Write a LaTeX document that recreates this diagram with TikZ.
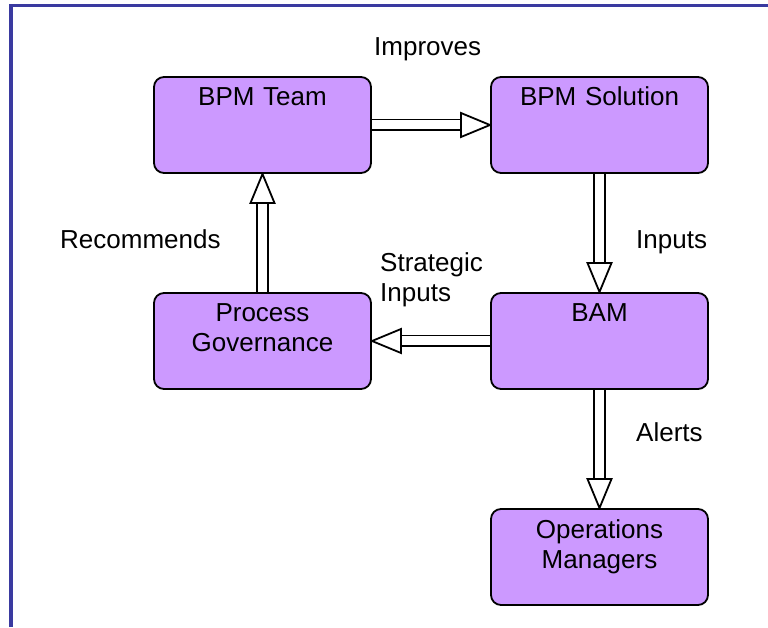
\documentclass[tikz,border=0pt]{standalone}
\usepackage{fontspec}
\setmainfont{Liberation Sans}
\usetikzlibrary{positioning,backgrounds,decorations.markings}
\definecolor{boxpurple}{HTML}{CC99FF}
\definecolor{frameblue}{RGB}{58,58,160}
\tikzset{
  procbox/.style={draw, line width=1.8pt, fill=boxpurple, rounded corners=10pt,
    text width=217pt, align=center, inner sep=0pt, outer sep=0pt,
    minimum width=217pt, minimum height=96pt, text height=29pt, text depth=67pt,
    font=\fontsize{26}{30}\selectfont},
  lbl/.style={inner sep=0pt, font=\fontsize{26}{30}\selectfont},
  hollow/.style={draw=none,
    postaction={draw, line width=1.8pt, double, double distance=9pt, shorten >=27pt},
    postaction={decorate, decoration={markings, mark=at position 1 with
      {\draw[line width=1.8pt, fill=white, line join=miter] (-1pt,0pt) -- (-30pt,12pt) -- (-30pt,-12pt) -- cycle;}}}}
}
\begin{document}
\begin{tikzpicture}[x=1pt,y=1pt]
\useasboundingbox (0,0) rectangle (768,627);
% frame
\draw[frameblue, line width=3.5pt] (10.8,0) -- (10.8,621.3) -- (768,621.3);
\node[procbox] (team) at (262.5,502) {BPM Team};
\node[procbox, right=120pt of team] (solution) {BPM Solution};
\node[procbox, below=120pt of solution] (bam) {BAM};
\node[procbox, left=120pt of bam] (governance) {Process\\Governance};
\node[procbox, below=120pt of bam] (managers) {Operations\\Managers};
% labels
\node[lbl, anchor=base west] (improves) at (374,571) {Improves};
\node[lbl, anchor=base west] (recommends) at (60,378) {Recommends};
\node[lbl, anchor=base west] (inputs) at (636,378) {Inputs};
\node[lbl, anchor=base west, text width=110pt, align=left] (strategic) at (380,355) {Strategic\\Inputs};
\node[lbl, anchor=base west] (alerts) at (636,186) {Alerts};
% draw the connections
\begin{scope}[on background layer]
\draw[hollow] (team) -- (solution);
\draw[hollow] (solution) -- (bam);
\draw[hollow] (bam) -- (governance);
\draw[hollow] (governance) -- (team);
\draw[hollow] (bam) -- (managers);
\end{scope}
\end{tikzpicture}
\end{document}
